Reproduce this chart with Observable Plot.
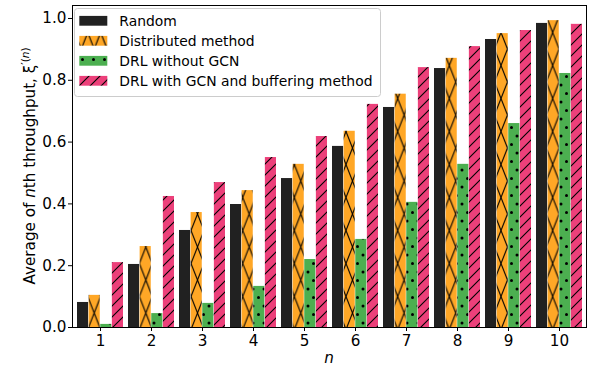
<!DOCTYPE html>
<html><head><meta charset="utf-8">
<script src="https://cdn.jsdelivr.net/npm/d3@7"></script>
<script src="https://cdn.jsdelivr.net/npm/@observablehq/plot@0.6"></script>
<style>body{margin:0;background:#fff} svg{display:block}</style>
</head><body><div id="chart"></div>
<script>
// ---- data ----
const nValues = [1, 2, 3, 4, 5, 6, 7, 8, 9, 10];
const random       = [0.081, 0.204, 0.314, 0.398, 0.482, 0.586, 0.712, 0.838, 0.932, 0.984];
const distributed  = [0.104, 0.262, 0.372, 0.443, 0.528, 0.635, 0.755, 0.871, 0.951, 0.993];
const drlNoGcn     = [0.010, 0.045, 0.078, 0.133, 0.220, 0.285, 0.405, 0.528, 0.660, 0.822];
const drlGcnBuffer = [0.210, 0.424, 0.469, 0.550, 0.618, 0.722, 0.841, 0.909, 0.961, 0.981];
const seriesNames = ["Random", "Distributed method", "DRL without GCN", "DRL with GCN and buffering method"];
const yTicks = [0, 0.2, 0.4, 0.6, 0.8, 1.0];

// ---- layout / style ----
const W = 592, H = 366, mL = 72, mR = 6, mT = 5, mB = 39;
const padIn = 0.1, padOut = 0.025;
const step = (W - mL - mR) / (nValues.length - padIn + 2 * padOut);
const q = step * (1 - padIn) / 4;
const colors = ["#212121", "#FFA726", "#4CAF50", "#EC407A"];
const fills = [colors[0], "url(#hatchX)", "url(#hatchDots)", "url(#hatchSlash)"];

const table = nValues.map((n, i) => ({
  n: String(n), s0: random[i], s1: distributed[i], s2: drlNoGcn[i], s3: drlGcnBuffer[i]
}));

const chart = Plot.plot({
  width: W, height: H,
  marginLeft: mL, marginRight: mR, marginTop: mT, marginBottom: mB,
  style: {fontFamily: "DejaVu Sans", fontSize: "15.2px", color: "black", background: "white"},
  x: {type: "band", domain: nValues.map(String), paddingInner: padIn, paddingOuter: padOut,
      tickSize: 4, tickPadding: 4, label: null},
  y: {domain: [0, 1.042], ticks: yTicks, tickFormat: d3.format(".1f"), tickSize: 4, tickPadding: 2, label: null},
  marks: [
    ...[0, 1, 2, 3].map(i => Plot.barY(table, {
      x: "n", y: "s" + i, fill: fills[i], insetLeft: i * q, insetRight: (3 - i) * q
    })),
    Plot.frame({stroke: "black", strokeWidth: 1})
  ]
});
document.getElementById("chart").appendChild(chart);

const svg = d3.select(chart);
// patterns aligned to rendered bars
const groups = chart.querySelectorAll('g[aria-label="bar"]');
const oRect = groups[1].querySelector("rect");
const oCenter = +oRect.getAttribute("x") + (+oRect.getAttribute("width")) / 2;
const tw = step / 4, th = 33;
const defs = svg.insert("defs", ":first-child");
const pX = defs.append("pattern").attr("id", "hatchX").attr("patternUnits", "userSpaceOnUse")
  .attr("x", oCenter - tw / 2).attr("y", 313 - th / 2).attr("width", tw).attr("height", th);
pX.append("rect").attr("width", tw).attr("height", th).attr("fill", colors[1]);
pX.append("path").attr("d", `M0,0L${tw},${th}M${tw},0L0,${th}`).attr("stroke", "black").attr("stroke-width", 1.1).attr("fill", "none");

const dw = 11, dh = 17;
const pD = defs.append("pattern").attr("id", "hatchDots").attr("patternUnits", "userSpaceOnUse")
  .attr("x", 0).attr("y", 0).attr("width", dw).attr("height", dh);
pD.append("rect").attr("width", dw).attr("height", dh).attr("fill", colors[2]);
[[0, 0], [dw, 0], [0, dh], [dw, dh], [dw / 2, dh / 2]].forEach(([cx, cy]) =>
  pD.append("circle").attr("cx", cx).attr("cy", cy).attr("r", 1.5).attr("fill", "black"));

const ss = 11;
const pS = defs.append("pattern").attr("id", "hatchSlash").attr("patternUnits", "userSpaceOnUse")
  .attr("x", 0).attr("y", 0).attr("width", ss).attr("height", ss);
pS.append("rect").attr("width", ss).attr("height", ss).attr("fill", colors[3]);
pS.append("path").attr("d", `M0,${ss}L${ss},0M-1,1L1,-1M${ss - 1},${ss + 1}L${ss + 1},${ss - 1}`)
  .attr("stroke", "black").attr("stroke-width", 1.1).attr("fill", "none");

// y label
const yl = svg.append("text").attr("transform", `translate(34.5,${(mT + H - mB) / 2}) rotate(-90)`)
  .attr("text-anchor", "middle").attr("font-family", "DejaVu Sans").attr("font-size", 15.2).attr("fill", "black");
yl.append("tspan").text("Average of ");
yl.append("tspan").attr("font-style", "italic").text("n");
yl.append("tspan").text("th throughput, ξ");
yl.append("tspan").attr("dy", -6).attr("font-size", 10.5).text("′(");
yl.append("tspan").attr("font-size", 10.5).attr("font-style", "italic").text("n");
yl.append("tspan").attr("font-size", 10.5).text(")");

// x label
svg.append("text").attr("x", (mL + W - mR) / 2).attr("y", 363).attr("text-anchor", "middle")
  .attr("font-family", "DejaVu Sans").attr("font-size", 15.2).attr("font-style", "italic").attr("fill", "black").text("n");

// legend
const lg = svg.append("g").attr("font-family", "DejaVu Sans").attr("font-size", 13.9).attr("text-anchor", "start");
lg.append("rect").attr("x", 74.5).attr("y", 8.5).attr("width", 306).attr("height", 88).attr("rx", 3)
  .attr("fill", "white").attr("fill-opacity", 0.8).attr("stroke", "#cccccc");
seriesNames.forEach((name, i) => {
  const cy = 20.7 + i * 20;
  lg.append("rect").attr("x", 79.3).attr("y", cy - 4.8).attr("width", 28).attr("height", 9.8).attr("fill", fills[i]);
  lg.append("text").attr("x", 119.3).attr("y", cy).attr("dy", "0.35em").attr("text-anchor", "start").attr("fill", "black").text(name);
});
</script>
</body></html>
